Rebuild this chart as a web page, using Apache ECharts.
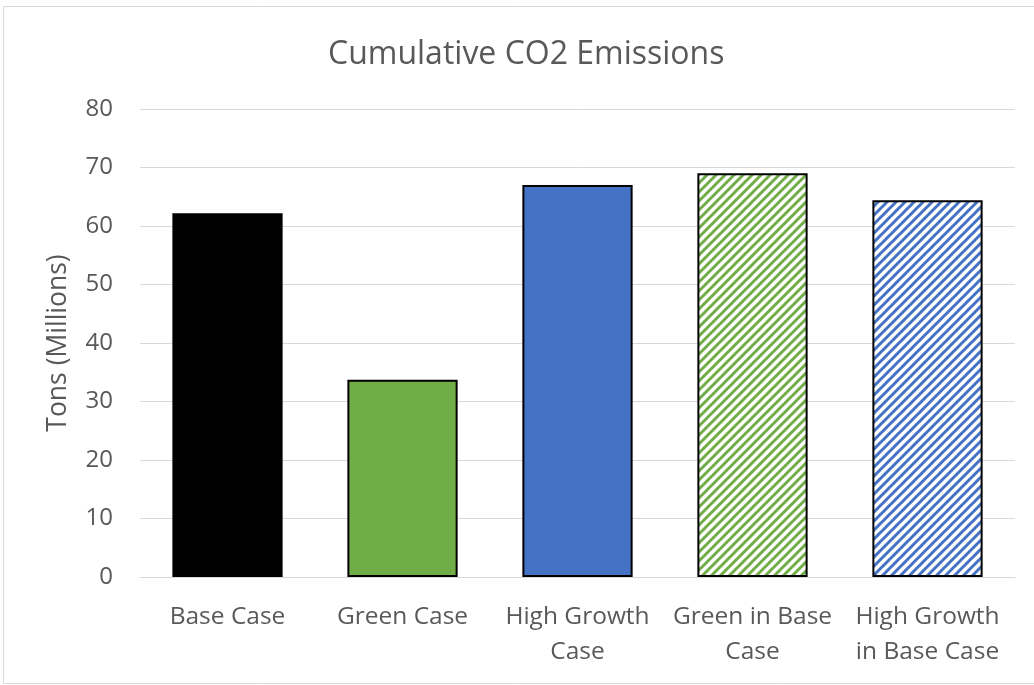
<!DOCTYPE html>
<html>
<head>
<meta charset="utf-8">
<script src="https://cdn.jsdelivr.net/npm/echarts@6/dist/echarts.min.js"></script>
<style>
  html, body { margin: 0; padding: 0; background: #ffffff; }
  #chart { width: 1034px; height: 685px; }
</style>
</head>
<body>
<div id="chart"></div>
<script>
// Scenario names (x axis) and cumulative emissions in millions of tons
const categories = ['Base Case', 'Green Case', 'High Growth\nCase', 'Green in Base\nCase', 'High Growth\nin Base Case'];
const emissions = [62.2, 33.7, 67.0, 69.0, 64.4];
const yTicks = { min: 0, max: 80, interval: 10 };

const FONT = "'Open Sans', sans-serif";
const TEXT = '#595959';
const GREEN = '#70AD47';
const BLUE = '#4472C4';

// Diagonal "/" hatch tile used for the "in Base Case" scenarios
function hatch(color) {
  const p = 9;
  const c = document.createElement('canvas');
  c.width = p; c.height = p;
  const ctx = c.getContext('2d');
  ctx.fillStyle = '#ffffff';
  ctx.fillRect(0, 0, p, p);
  ctx.strokeStyle = color;
  ctx.lineWidth = 3;
  ctx.beginPath();
  for (let k = -1; k <= 1; k++) {
    ctx.moveTo(k * p - 1, p + 1);
    ctx.lineTo(k * p + p + 1, -1);
  }
  ctx.stroke();
  return { image: c, repeat: 'repeat' };
}

const fills = ['#000000', GREEN, BLUE, hatch(GREEN), hatch(BLUE)];

const chart = echarts.init(document.getElementById('chart'), null, { renderer: 'canvas' });
chart.setOption({
  animation: false,
  backgroundColor: '#ffffff',
  title: {
    text: 'Cumulative CO2 Emissions',
    left: 323,
    top: 34,
    textStyle: { fontFamily: FONT, fontSize: 32, fontWeight: 'normal', color: TEXT }
  },
  graphic: [{
    type: 'rect',
    shape: { x: 3.5, y: 6.5, width: 1100, height: 677 },
    style: { fill: 'none', stroke: '#d9d9d9', lineWidth: 1 },
    silent: true
  }],
  grid: { left: 140, right: 19, top: 109, bottom: 108 },
  xAxis: {
    type: 'category',
    data: categories,
    axisLine: { lineStyle: { color: '#d9d9d9', width: 1 } },
    axisTick: { show: false },
    axisLabel: {
      interval: 0, margin: 23,
      fontFamily: FONT, fontSize: 24.5, color: TEXT, lineHeight: 35
    }
  },
  yAxis: {
    type: 'value',
    min: yTicks.min, max: yTicks.max, interval: yTicks.interval,
    name: 'Tons (Millions)',
    nameLocation: 'middle',
    nameGap: 68,
    nameTextStyle: { fontFamily: FONT, fontSize: 26.5, color: TEXT },
    axisLine: { show: false },
    axisTick: { show: false },
    splitLine: { lineStyle: { color: '#d9d9d9', width: 1 } },
    axisLabel: { margin: 27, fontFamily: FONT, fontSize: 24, color: TEXT }
  },
  series: [{
    type: 'bar',
    barCategoryGap: '37%',
    data: emissions.map((v, i) => ({
      value: v,
      itemStyle: { color: fills[i], borderColor: '#000000', borderWidth: 2 }
    }))
  }]
});
</script>
</body>
</html>
